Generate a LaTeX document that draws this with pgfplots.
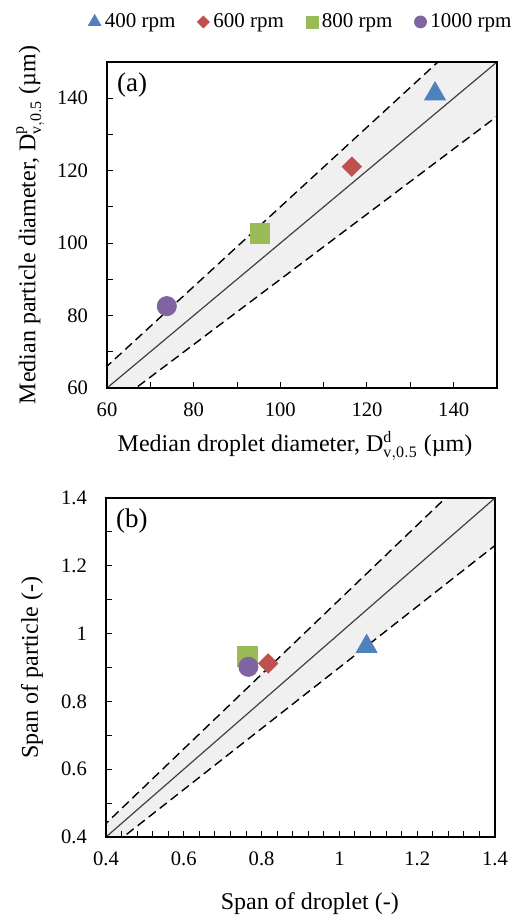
\documentclass[border=0pt]{standalone}
\usepackage{fontspec}
\setmainfont{Liberation Serif}
\setmathrm{Liberation Serif}
\usepackage{pgfplots}
\pgfplotsset{compat=1.18}
\definecolor{cA}{HTML}{4F81BD}
\definecolor{cB}{HTML}{C0504D}
\definecolor{cC}{HTML}{9BBB59}
\definecolor{cD}{HTML}{8064A2}
\definecolor{band}{HTML}{F0F0F0}
\newcommand{\lblfont}{\fontsize{12}{14}\selectfont}
\pgfplotsset{
  myaxis/.style={
    scale only axis,
    axis on top,
    tick align=inside,
    xtick pos=left, ytick pos=left,
    /pgf/number format/assume math mode=true,
    ticklabel style={font=\fontsize{10.3}{12}\selectfont},
    major tick length=3pt, minor tick length=3pt,
    axis line style={line width=0.6pt},
    every tick/.style={black, line width=0.5pt},
    yticklabel style={xshift=-6pt},
    xticklabel style={yshift=-4pt},
  },
  dsh/.style={black, line width=0.7pt, dash pattern=on 4.5pt off 2.5pt},
}
\begin{document}
\begin{tikzpicture}
\useasboundingbox (0,0) rectangle (256pt,458pt);
% ---------- (a)
\begin{axis}[myaxis,
  at={(53.5pt,264pt)}, anchor=south west,
  width=195pt, height=163pt,
  xmin=60, xmax=150, ymin=60, ymax=150,
  xtick={60,80,...,140}, ytick={60,80,...,140},
  minor x tick num=1, minor y tick num=1,
  xlabel={Median droplet diameter, $\mathrm{D}^{\mathrm{d}}_{\mathrm{v,0.5}}$ (µm)},
  ylabel={Median particle diameter, $\mathrm{D}^{\mathrm{p}}_{\mathrm{v,0.5}}$ (µm)},
  every axis x label/.style={at={(axis description cs:0.482,-0.178)}, anchor=center, font=\lblfont},
  every axis y label/.style={at={(axis description cs:-0.197,0.5)}, rotate=90, anchor=center, font=\lblfont},
  legend style={at={(axis description cs:0.5,1.123)}, anchor=center, draw=none, fill=none,
    legend columns=4, font=\fontsize{10.5}{12}\selectfont,
    /tikz/every even column/.append style={column sep=9pt}},
  legend image code/.code={\draw[mark repeat=2,mark phase=2,#1] plot coordinates {(0cm,0cm)(0.1cm,0cm)(0.2cm,0cm)};},
]
\addlegendimage{only marks, mark=triangle*, color=cA, mark size=3.6pt}
\addlegendentry{400 rpm}
\addlegendimage{only marks, mark=square*, mark options={rotate=45}, color=cB, mark size=2.1pt}
\addlegendentry{600 rpm}
\addlegendimage{only marks, mark=square*, color=cC, mark size=3pt}
\addlegendentry{800 rpm}
\addlegendimage{only marks, mark=*, color=cD, mark size=3pt}
\addlegendentry{1000 rpm}
\addplot[forget plot, fill=band, draw=none] coordinates {(0,0) (200,220) (200,180)} -- cycle;
\addplot[forget plot, black!75, line width=0.6pt] coordinates {(0,0) (200,200)};
\addplot[forget plot, dsh] coordinates {(0,0) (200,220)};
\addplot[forget plot, dsh] coordinates {(0,0) (200,180)};
\addplot[forget plot, only marks, mark=triangle*, color=cA, mark size=6pt] coordinates {(135.7,141.2)};
\addplot[forget plot, only marks, mark=square*, mark options={rotate=45}, color=cB, mark size=3.4pt] coordinates {(116.5,121.1)};
\addplot[forget plot, only marks, mark=square*, color=cC, mark size=4.9pt] coordinates {(95.3,102.7)};
\addplot[forget plot, only marks, mark=*, color=cD, mark size=4.8pt] coordinates {(73.8,82.6)};
\node[anchor=north west, font=\fontsize{13.5}{15}\selectfont, inner sep=1pt] at (rel axis cs:0.02,0.975) {(a)};
\end{axis}
% ---------- (b)
\begin{axis}[myaxis,
  at={(53pt,39.5pt)}, anchor=south west,
  width=194.5pt, height=169.5pt,
  xmin=0.4, xmax=1.4, ymin=0.4, ymax=1.4,
  xtick={0.4,0.6,...,1.41}, ytick={0.4,0.6,...,1.41},
  xticklabels={0.4,0.6,0.8,1,1.2,1.4},
  yticklabels={0.4,0.6,0.8,1,1.2,1.4},
  minor x tick num=4, minor y tick num=1,
  xlabel={Span of droplet (-)},
  ylabel={Span of particle (-)},
  every axis x label/.style={at={(axis description cs:0.524,-0.195)}, anchor=center, font=\lblfont},
  every axis y label/.style={at={(axis description cs:-0.19,0.5)}, rotate=90, anchor=center, font=\lblfont},
]
\addplot[fill=band, draw=none] coordinates {(0,0) (2,2.2) (2,1.8)} -- cycle;
\addplot[black!75, line width=0.6pt] coordinates {(0,0) (2,2)};
\addplot[dsh] coordinates {(0,0) (2,2.2)};
\addplot[dsh] coordinates {(0,0) (2,1.8)};
\addplot[only marks, mark=triangle*, color=cA, mark size=6pt] coordinates {(1.07,0.962)};
\addplot[only marks, mark=square*, mark options={rotate=45}, color=cB, mark size=3.4pt] coordinates {(0.817,0.912)};
\addplot[only marks, mark=square*, color=cC, mark size=4.9pt] coordinates {(0.764,0.932)};
\addplot[only marks, mark=*, color=cD, mark size=4.8pt] coordinates {(0.766,0.902)};
\node[anchor=north west, font=\fontsize{13.5}{15}\selectfont, inner sep=1pt] at (rel axis cs:0.02,0.975) {(b)};
\end{axis}
\end{tikzpicture}
\end{document}
